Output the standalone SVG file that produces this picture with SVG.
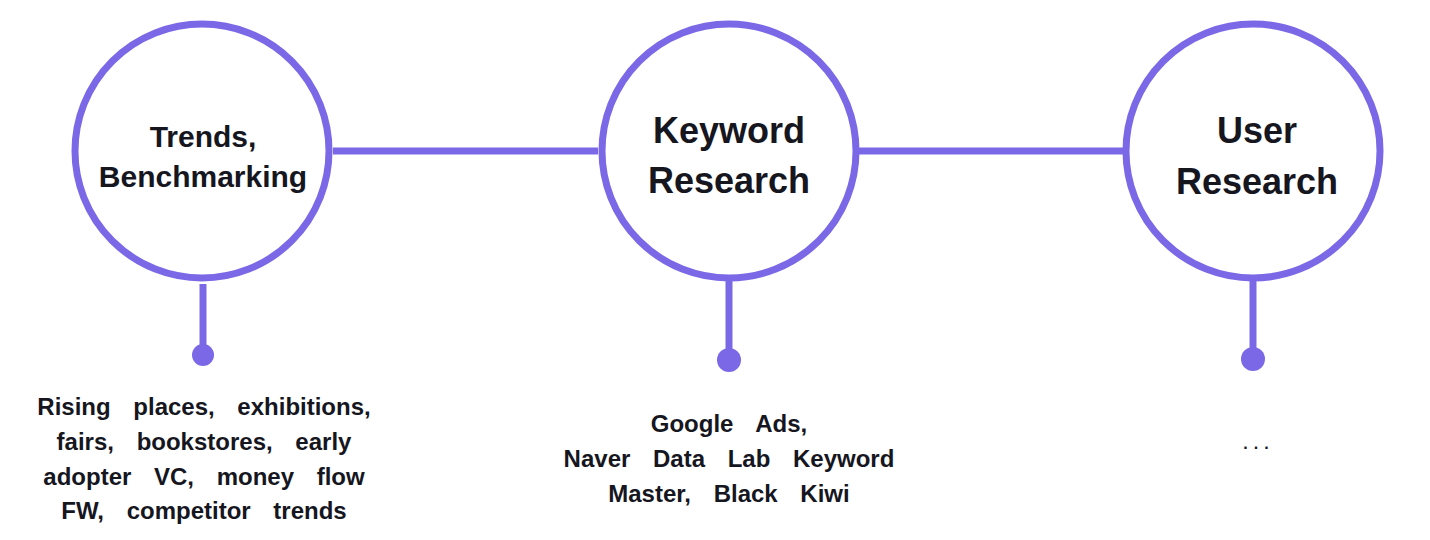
<svg xmlns="http://www.w3.org/2000/svg" width="1430" height="540" viewBox="0 0 1430 540">
<style>
.ring{fill:#fff;stroke:#7B68E6;stroke-width:7}
.line{stroke:#7B68E6;stroke-width:7;fill:none}
.dot{fill:#7B68E6}
.t{font-family:"Liberation Sans",Arial,sans-serif;font-weight:bold;fill:#16161F;text-anchor:middle}
.big{font-size:36px}
.mid{font-size:30px}
.desc{font-size:24px;word-spacing:16px}
</style>
<rect width="1430" height="540" fill="#fff"/>
<g id="connectors">
<line class="line" x1="333" y1="151" x2="598" y2="151"/>
<line class="line" x1="859" y1="151" x2="1123" y2="151"/>
<line class="line" x1="203" y1="284" x2="203" y2="355"/>
<line class="line" x1="729" y1="280" x2="729" y2="359"/>
<line class="line" x1="1253" y1="280" x2="1253" y2="359"/>
</g>
<g id="node-trends">
<circle class="ring" cx="202" cy="151" r="127"/>
<text class="t mid" x="203" y="147">Trends,</text>
<text class="t mid" x="203" y="187">Benchmarking</text>
<circle class="dot" cx="203" cy="355" r="11"/>
<text class="t desc" x="204" y="415">Rising places, exhibitions,</text>
<text class="t desc" x="204" y="450">fairs, bookstores, early</text>
<text class="t desc" x="204" y="485">adopter VC, money flow</text>
<text class="t desc" x="204" y="519">FW, competitor trends</text>
</g>
<g id="node-keyword">
<circle class="ring" cx="729" cy="151" r="127"/>
<text class="t big" x="729" y="143">Keyword</text>
<text class="t big" x="729" y="193">Research</text>
<circle class="dot" cx="729" cy="360" r="12"/>
<text class="t desc" x="729" y="432">Google Ads,</text>
<text class="t desc" x="729" y="467">Naver Data Lab Keyword</text>
<text class="t desc" x="729" y="502">Master, Black Kiwi</text>
</g>
<g id="node-user">
<circle class="ring" cx="1253" cy="151" r="127"/>
<text class="t big" x="1257" y="143">User</text>
<text class="t big" x="1257" y="194">Research</text>
<circle class="dot" cx="1253" cy="359" r="12"/>
<text class="t" x="1259" y="449" style="font-size:16px;letter-spacing:6px">...</text>
</g>
</svg>
